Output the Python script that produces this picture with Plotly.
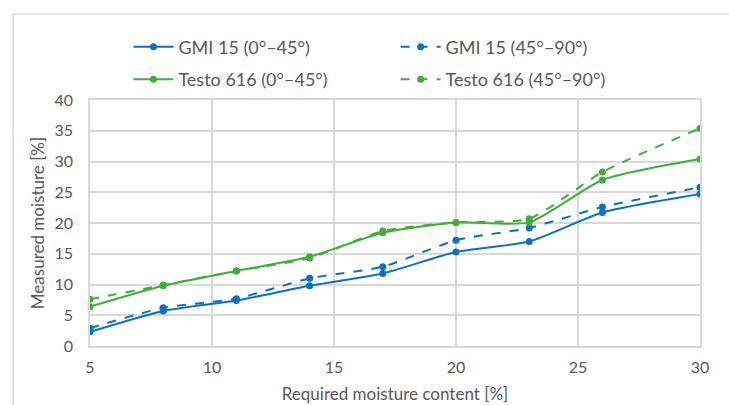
import plotly.graph_objects as go

x_vals = [5, 8, 11, 14, 17, 20, 23, 26, 30]
gmi_0_45 = [2.3, 5.7, 7.4, 9.8, 11.8, 15.3, 17.0, 21.7, 24.7]
gmi_45_90 = [2.9, 6.2, 7.7, 11.0, 12.9, 17.2, 19.2, 22.6, 25.8]
testo_0_45 = [6.4, 9.8, 12.2, 14.5, 18.4, 20.1, 20.1, 27.0, 30.4]
testo_45_90 = [7.6, 9.9, 12.2, 14.3, 18.7, 20.1, 20.7, 28.3, 35.4]

names = ["GMI 15 (0°–45°)", "GMI 15 (45°–90°)", "Testo 616 (0°–45°)", "Testo 616 (45°–90°)"]
series = [gmi_0_45, gmi_45_90, testo_0_45, testo_45_90]
BLUE = "#0A72C6"
GREEN = "#3FAE3A"
colors = [BLUE, BLUE, GREEN, GREEN]
dashes = ["solid", "dash", "solid", "dash"]
legends = ["legend", "legend2", "legend", "legend2"]
groups = ["g1", "g2", "g3", "g4"]

fig = go.Figure()
for n, s, c, d, lg, g in zip(names, series, colors, dashes, legends, groups):
    fig.add_trace(go.Scatter(
        x=x_vals, y=s, name=n, mode="lines+markers",
        line=dict(color=c, width=2, dash=d, shape="spline", smoothing=0.6),
        marker=dict(color=c, size=7), legend=lg, legendgroup=g,
    ))

FONT = "Lato, Open Sans, sans-serif"
GRAY = "#595959"
GRID = "#D9D9D9"

leg_common = dict(
    orientation="v", yanchor="top", xanchor="left",
    font=dict(size=18, color=GRAY), bgcolor="rgba(0,0,0,0)",
    itemwidth=40, tracegroupgap=6, traceorder="grouped",
)

fig.update_layout(
    width=729, height=405,
    margin=dict(l=90, r=29, t=100, b=59),
    paper_bgcolor="white", plot_bgcolor="white",
    font=dict(family=FONT, color=GRAY, size=16),
    legend=dict(x=0.063, y=1.29, **leg_common),
    legend2=dict(x=0.501, y=1.29, **leg_common),
    xaxis=dict(
        range=[5, 30], tickvals=[5, 10, 15, 20, 25, 30],
        showgrid=True, gridcolor=GRID, gridwidth=1.5,
        showline=True, linecolor=GRID, linewidth=1.5, mirror=True,
        zeroline=False, ticks="", tickfont=dict(size=16, color=GRAY),
        ticklabelstandoff=6, automargin=False,
        title=dict(text="Required moisture content [%]", font=dict(size=17, color=GRAY), standoff=13),
    ),
    yaxis=dict(
        range=[0, 40], tickvals=[0, 5, 10, 15, 20, 25, 30, 35, 40],
        showgrid=True, gridcolor=GRID, gridwidth=1.5,
        showline=True, linecolor=GRID, linewidth=1.5, mirror=True,
        zeroline=False, ticks="", tickfont=dict(size=16, color=GRAY),
        ticklabelstandoff=12, automargin=False,
        title=dict(text="Measured moisture [%]", font=dict(size=17, color=GRAY), standoff=6),
    ),
    shapes=[dict(
        type="rect", xref="paper", yref="paper",
        x0=(13 - 90) / 610, x1=(800 - 90) / 610,
        y0=(346 - 480) / 246, y1=(346 - 14) / 246,
        line=dict(color="#D9D9D9", width=1.5), fillcolor="rgba(0,0,0,0)", layer="below",
    )],
)

fig.write_html(
    "out.html",
    config={"displayModeBar": False},
    post_script="document.body.style.margin='0';document.body.style.overflow='hidden';",
)
